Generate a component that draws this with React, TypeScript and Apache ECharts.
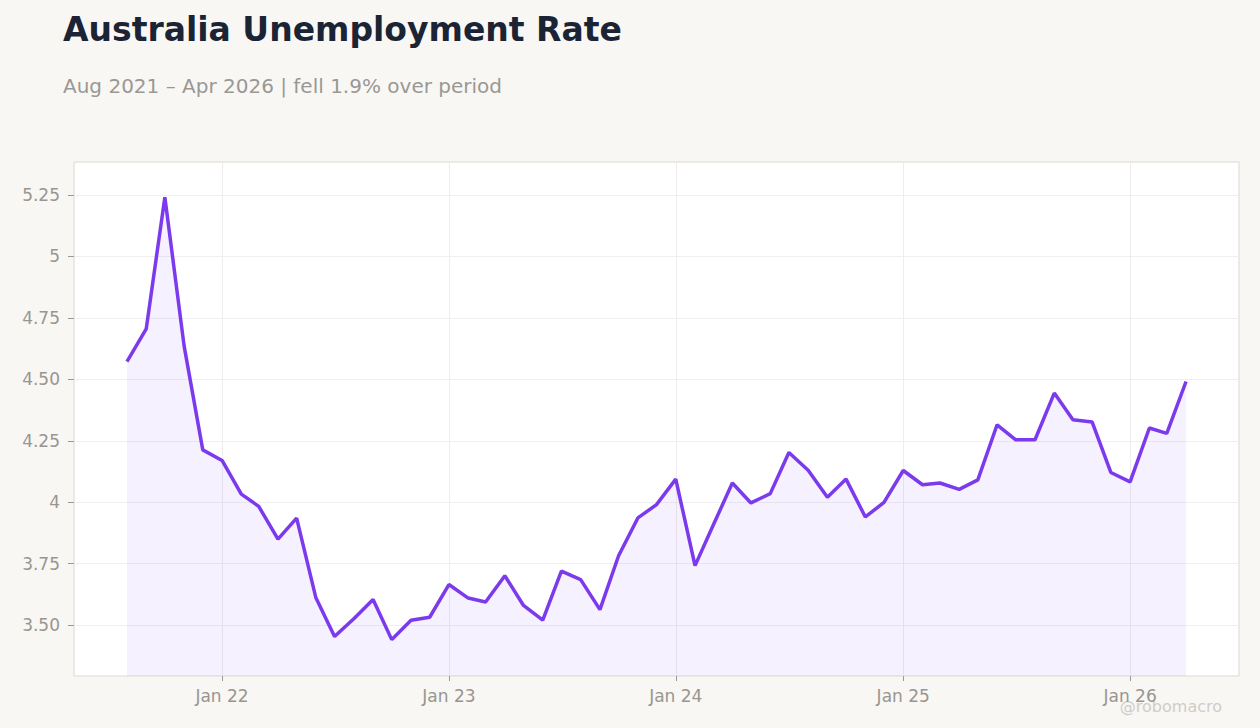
import React, { useEffect, useRef } from 'react';
import * as echarts from 'echarts';

// monthly, Aug 2021 .. Apr 2026
const startYear = 2021;
const startMonth = 7; // August (0-based)
const rates = [
  4.572, 4.705, 5.241, 4.635, 4.213, 4.17, 4.033, 3.983, 3.85, 3.935,
  3.611, 3.454, 3.526, 3.604, 3.441, 3.52, 3.532, 3.665, 3.61, 3.594,
  3.701, 3.58, 3.52, 3.72, 3.685, 3.563, 3.782, 3.936, 3.99, 4.094,
  3.742, 3.905, 4.078, 3.997, 4.035, 4.202, 4.13, 4.02, 4.094, 3.94,
  3.999, 4.129, 4.071, 4.078, 4.052, 4.091, 4.315, 4.254, 4.254, 4.444,
  4.335, 4.326, 4.121, 4.083, 4.302, 4.28, 4.491,
];
const yTicks = [3.5, 3.75, 4, 4.25, 4.5, 4.75, 5, 5.25];
const xTickYears = [2022, 2023, 2024, 2025, 2026];

const FONT = '"DejaVu Sans", sans-serif';
const BG = '#f8f7f4';

const monthTime = (i: number) =>
  new Date(startYear, startMonth + i, 1).getTime();

const formatY = (v: number) =>
  Math.abs(v - Math.round(v)) < 1e-9 ? String(Math.round(v)) : v.toFixed(2);

const App: React.FC = () => {
  const ref = useRef<HTMLDivElement>(null);

  useEffect(() => {
    if (!ref.current) return;
    document.body.style.margin = '0';
    document.body.style.background = BG;
    const chart = echarts.init(ref.current, undefined, { renderer: 'svg' });

    const points = rates.map((v, i) => [monthTime(i), v]);
    const first = monthTime(0);
    const last = monthTime(rates.length - 1);
    const pad = (last - first) * 0.05;
    const xTicks = xTickYears.map((y) => new Date(y, 0, 1).getTime());

    chart.setOption({
      animation: false,
      backgroundColor: BG,
      textStyle: { fontFamily: FONT },
      title: [
        {
          text: 'Australia Unemployment Rate',
          left: 63,
          top: 13,
          padding: 0,
          textStyle: {
            fontFamily: FONT,
            fontSize: 33,
            fontWeight: 'bold',
            color: '#1b2434',
          },
        },
        {
          text: 'Aug 2021 – Apr 2026 | fell 1.9% over period',
          left: 63,
          top: 76,
          padding: 0,
          textStyle: {
            fontFamily: FONT,
            fontSize: 20,
            fontWeight: 'normal',
            color: '#9a9894',
          },
        },
      ],
      graphic: [
        {
          type: 'text',
          right: 38,
          bottom: 14,
          style: {
            text: '@robomacro',
            font: `16px ${FONT}`,
            fill: '#cfcdca',
          },
        },
      ],
      grid: {
        left: 74,
        right: 21,
        top: 162,
        bottom: 52,
        show: true,
        backgroundColor: '#ffffff',
        borderColor: '#ddd8d0',
        borderWidth: 1,
      },
      xAxis: {
        type: 'value',
        min: first - pad,
        max: last + pad,
        axisLine: { show: false },
        axisTick: {
          show: true,
          length: 5,
          lineStyle: { color: '#999999' },
          customValues: xTicks,
        },
        axisLabel: {
          customValues: xTicks,
          margin: 11,
          fontFamily: FONT,
          fontSize: 17,
          color: '#999590',
          formatter: (v: number) =>
            `Jan ${String(new Date(v).getFullYear()).slice(2)}`,
        },
        splitLine: { show: true, lineStyle: { color: '#eeecef', width: 1 } },
      },
      yAxis: {
        type: 'value',
        min: 3.293,
        max: 5.384,
        axisLine: { show: false },
        axisTick: {
          show: true,
          length: 6,
          lineStyle: { color: '#999999' },
          customValues: yTicks,
        },
        axisLabel: {
          customValues: yTicks,
          margin: 14,
          fontFamily: FONT,
          fontSize: 17,
          color: '#999590',
          formatter: (v: number) => formatY(v),
        },
        splitLine: { show: true, lineStyle: { color: '#efefef', width: 1 } },
      },
      series: [
        {
          type: 'line',
          data: points,
          symbol: 'none',
          lineStyle: { color: '#7c3aed', width: 3.5 },
          itemStyle: { color: '#7c3aed' },
          areaStyle: { color: 'rgba(124,58,237,0.1)', origin: 'start' },
        },
      ],
    });

    return () => chart.dispose();
  }, []);

  return (
    <div
      ref={ref}
      style={{ position: 'fixed', left: 0, top: 0, width: 1260, height: 728 }}
    />
  );
};

export default App;
